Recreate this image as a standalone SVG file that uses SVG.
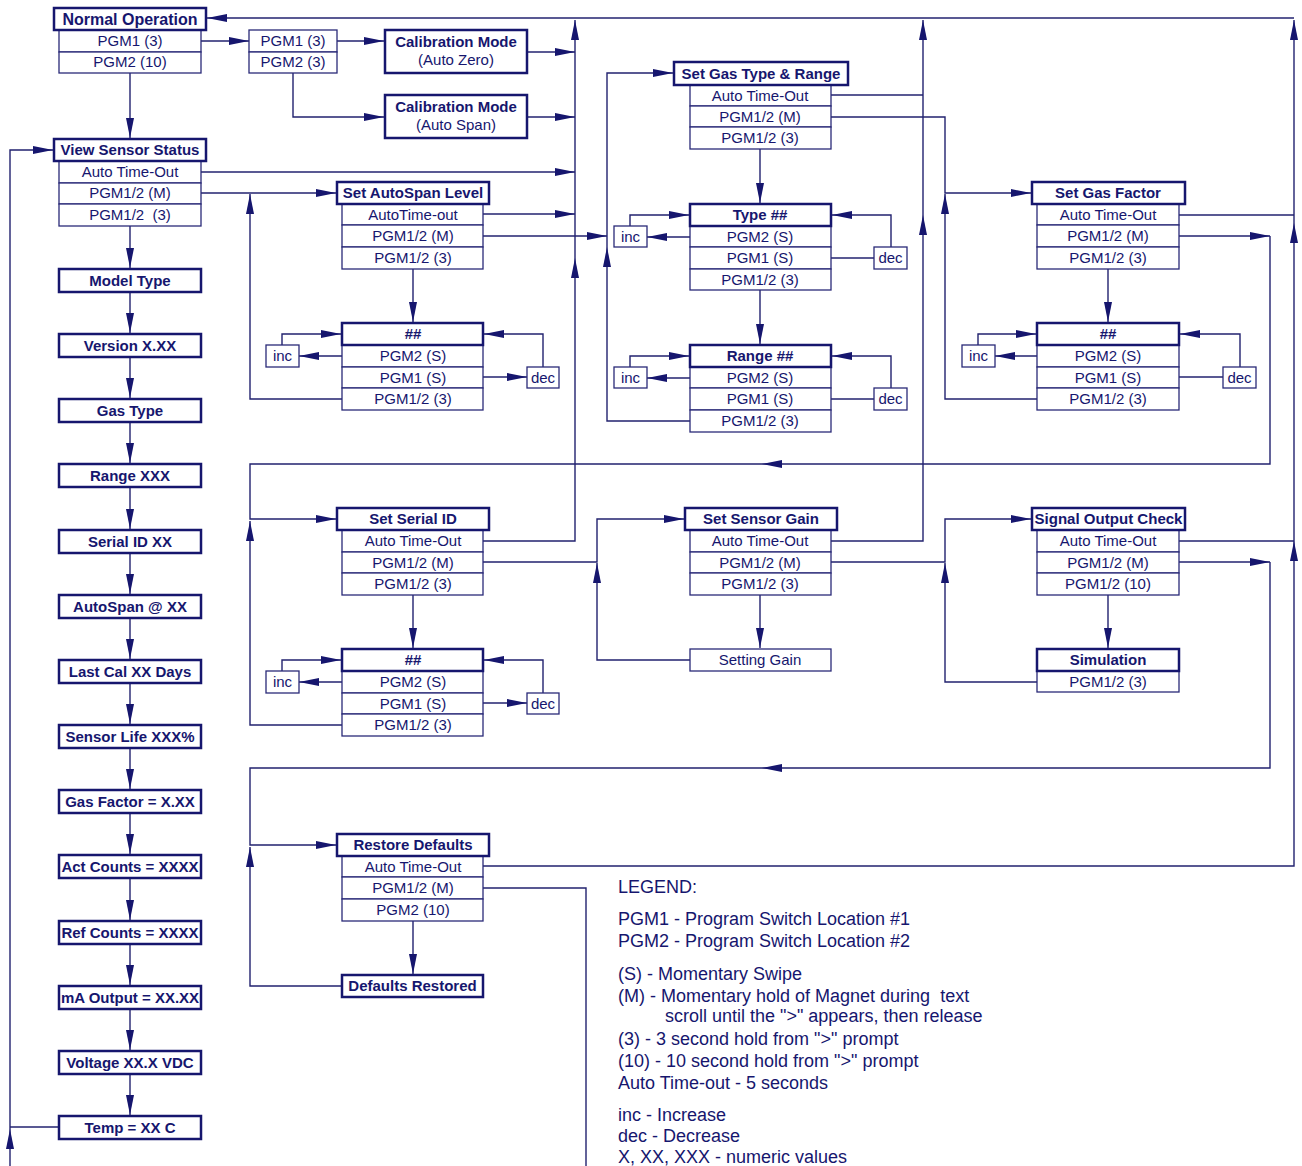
<svg xmlns="http://www.w3.org/2000/svg" width="1302" height="1166" viewBox="0 0 1302 1166">
<style>
.hdr{fill:#fff;stroke:#16166e;stroke-width:2.5}
.row{fill:#fff;stroke:#2a2a78;stroke-width:1.3}
.t{font-family:"Liberation Sans",Arial,sans-serif;font-size:15px;fill:#16166e;text-anchor:middle}
.b{font-weight:bold}
.lg{font-family:"Liberation Sans",Arial,sans-serif;font-size:18px;fill:#16166e}
.ln{fill:none;stroke:#22226f;stroke-width:1.4}
.ar{marker-end:url(#ah)}
</style>
<defs>
<marker id="ah" viewBox="0 0 20 8" refX="20" refY="4" markerWidth="20" markerHeight="8" markerUnits="userSpaceOnUse" orient="auto">
<path d="M0,0 L20,4 L0,8 z" fill="#16166e"/>
</marker>
</defs>
<rect width="1302" height="1166" fill="#fff"/>

<g id="connectors">
<!-- top return line -->
<path class="ln ar" d="M1294,18 H207"/>
<path class="ln ar" d="M130,73 V138"/>
<path class="ln ar" d="M201,41 H249"/>
<path class="ln ar" d="M337,41 H384"/>
<path class="ln ar" d="M293,73 V117 H384"/>
<path class="ln ar" d="M528,52 H575"/>
<path class="ln ar" d="M528,117 H575"/>
<path class="ln ar" d="M201,172 H575"/>
<path class="ln ar" d="M201,193 H336"/>
<path class="ln ar" d="M483,214 H575"/>
<path class="ln ar" d="M483,236 H607"/>
<path class="ln ar" d="M413,269 V322"/>
<path class="ln ar" d="M282,345 V334 H341"/>
<path class="ln ar" d="M342,356 H299"/>
<path class="ln ar" d="M483,377 H527"/>
<path class="ln ar" d="M543,367 V334 H484"/>
<path class="ln ar" d="M342,399 H250 V194"/>
<!-- 575 trunk -->
<path class="ln ar" d="M483,541 H575 V258"/>
<path class="ln ar" d="M575,258 V20"/>
<!-- 607 trunk -->
<path class="ln ar" d="M690,421 H607 V247"/>
<path class="ln ar" d="M607,247 V73 H673"/>
<!-- gas type & range -->
<path class="ln" d="M831,95 H923"/>
<path class="ln ar" d="M831,541 H923 V215"/>
<path class="ln ar" d="M923,215 V20"/>
<path class="ln ar" d="M831,117 H945 V193 H1031"/>
<path class="ln ar" d="M1037,399 H945 V194"/>
<path class="ln ar" d="M760,149 V203"/>
<path class="ln ar" d="M630,226 V215 H689"/>
<path class="ln ar" d="M690,237 H647"/>
<path class="ln" d="M831,258 H874"/>
<path class="ln ar" d="M891,247 V215 H832"/>
<path class="ln ar" d="M760,290 V344"/>
<path class="ln ar" d="M630,367 V356 H689"/>
<path class="ln ar" d="M690,378 H647"/>
<path class="ln" d="M831,399 H874"/>
<path class="ln ar" d="M891,388 V356 H832"/>
<!-- gas factor -->
<path class="ln" d="M1179,215 H1294"/>
<path class="ln ar" d="M1179,236 H1270"/>
<path class="ln ar" d="M1270,236 V464 H762"/>
<path class="ln ar" d="M762,464 H250 V519 H336"/>
<path class="ln ar" d="M1108,269 V322"/>
<path class="ln ar" d="M978,345 V334 H1036"/>
<path class="ln ar" d="M1037,356 H995"/>
<path class="ln" d="M1179,377 H1223"/>
<path class="ln ar" d="M1240,367 V334 H1180"/>
<!-- 1294 trunk -->
<path class="ln ar" d="M483,866 H1294 V541"/>
<path class="ln ar" d="M1294,541 V223"/>
<path class="ln ar" d="M1294,223 V20"/>
<path class="ln" d="M1179,541 H1294"/>
<!-- serial id -->
<path class="ln ar" d="M342,725 H250 V521"/>
<path class="ln ar" d="M483,562 H597 V519 H684"/>
<path class="ln ar" d="M690,660 H597 V563"/>
<path class="ln ar" d="M413,595 V648"/>
<path class="ln ar" d="M282,671 V660 H341"/>
<path class="ln ar" d="M342,682 H299"/>
<path class="ln ar" d="M483,703 H527"/>
<path class="ln ar" d="M543,693 V660 H484"/>
<!-- sensor gain -->
<path class="ln ar" d="M831,562 H945 V519 H1031"/>
<path class="ln ar" d="M1037,682 H945 V563"/>
<path class="ln ar" d="M760,595 V648"/>
<!-- signal output -->
<path class="ln ar" d="M1108,595 V648"/>
<path class="ln ar" d="M1179,562 H1270"/>
<path class="ln ar" d="M1270,562 V768 H762"/>
<path class="ln ar" d="M762,768 H250 V845 H336"/>
<!-- restore -->
<path class="ln ar" d="M342,986 H250 V847"/>
<path class="ln ar" d="M413,921 V974"/>
<path class="ln" d="M483,888 H586 V1166"/>
<!-- left column -->
<path class="ln ar" d="M130,226 V268"/>
<path class="ln ar" d="M130,292 V333"/>
<path class="ln ar" d="M130,357 V398"/>
<path class="ln ar" d="M130,422 V463"/>
<path class="ln ar" d="M130,487 V529"/>
<path class="ln ar" d="M130,553 V594"/>
<path class="ln ar" d="M130,618 V659"/>
<path class="ln ar" d="M130,683 V724"/>
<path class="ln ar" d="M130,748 V789"/>
<path class="ln ar" d="M130,813 V854"/>
<path class="ln ar" d="M130,878 V920"/>
<path class="ln ar" d="M130,944 V985"/>
<path class="ln ar" d="M130,1009 V1050"/>
<path class="ln ar" d="M130,1074 V1115"/>
<path class="ln" d="M59,1127 H10"/>
<path class="ln ar" d="M10,1166 V1129"/>
<path class="ln ar" d="M10,1129 V150 H53"/>
</g>

<g id="normal-operation">
<rect class="row" x="59" y="30" width="142" height="22"/>
<rect class="row" x="59" y="52" width="142" height="21"/>
<rect class="hdr" x="54" y="8" width="152" height="22"/>
<text class="t b" x="130" y="25" style="font-size:16px">Normal Operation</text>
<text class="t" x="130" y="46">PGM1 (3)</text>
<text class="t" x="130" y="67">PGM2 (10)</text>
</g>
<g id="pgm-select">
<rect class="row" x="249" y="30" width="88" height="22"/>
<rect class="row" x="249" y="52" width="88" height="21"/>
<text class="t" x="293" y="46">PGM1 (3)</text>
<text class="t" x="293" y="67">PGM2 (3)</text>
</g>
<g id="cal-zero">
<rect class="hdr" x="385" y="30" width="142" height="43"/>
<text class="t b" x="456" y="47">Calibration Mode</text>
<text class="t" x="456" y="65">(Auto Zero)</text>
</g>
<g id="cal-span">
<rect class="hdr" x="385" y="95" width="142" height="43"/>
<text class="t b" x="456" y="112">Calibration Mode</text>
<text class="t" x="456" y="130">(Auto Span)</text>
</g>
<g id="view-sensor-status">
<rect class="row" x="59" y="161" width="142" height="22"/>
<rect class="row" x="59" y="183" width="142" height="21"/>
<rect class="row" x="59" y="204" width="142" height="22"/>
<rect class="hdr" x="54" y="139" width="152" height="22"/>
<text class="t b" x="130" y="155">View Sensor Status</text>
<text class="t" x="130" y="177">Auto Time-Out</text>
<text class="t" x="130" y="198">PGM1/2 (M)</text>
<text class="t" x="130" y="220" xml:space="preserve">PGM1/2  (3)</text>
</g>

<g id="model-type"><rect class="hdr" x="59" y="269" width="142" height="23"/><text class="t b" x="130" y="285.5">Model Type</text></g>
<g id="version"><rect class="hdr" x="59" y="334" width="142" height="23"/><text class="t b" x="130" y="350.5">Version X.XX</text></g>
<g id="gas-type"><rect class="hdr" x="59" y="399" width="142" height="23"/><text class="t b" x="130" y="415.5">Gas Type</text></g>
<g id="range"><rect class="hdr" x="59" y="464" width="142" height="23"/><text class="t b" x="130" y="480.5">Range XXX</text></g>
<g id="serial-id"><rect class="hdr" x="59" y="530" width="142" height="23"/><text class="t b" x="130" y="546.5">Serial ID XX</text></g>
<g id="autospan-at"><rect class="hdr" x="59" y="595" width="142" height="23"/><text class="t b" x="130" y="611.5">AutoSpan @ XX</text></g>
<g id="last-cal"><rect class="hdr" x="59" y="660" width="142" height="23"/><text class="t b" x="130" y="676.5">Last Cal XX Days</text></g>
<g id="sensor-life"><rect class="hdr" x="59" y="725" width="142" height="23"/><text class="t b" x="130" y="741.5">Sensor Life XXX%</text></g>
<g id="gas-factor-val"><rect class="hdr" x="59" y="790" width="142" height="23"/><text class="t b" x="130" y="806.5">Gas Factor = X.XX</text></g>
<g id="act-counts"><rect class="hdr" x="59" y="855" width="142" height="23"/><text class="t b" x="130" y="871.5">Act Counts = XXXX</text></g>
<g id="ref-counts"><rect class="hdr" x="59" y="921" width="142" height="23"/><text class="t b" x="130" y="937.5">Ref Counts = XXXX</text></g>
<g id="ma-output"><rect class="hdr" x="59" y="986" width="142" height="23"/><text class="t b" x="130" y="1002.5">mA Output = XX.XX</text></g>
<g id="voltage"><rect class="hdr" x="59" y="1051" width="142" height="23"/><text class="t b" x="130" y="1067.5">Voltage XX.X VDC</text></g>
<g id="temp"><rect class="hdr" x="59" y="1116" width="142" height="23"/><text class="t b" x="130" y="1132.5">Temp = XX C</text></g>

<g id="set-autospan">
<rect class="row" x="342" y="204" width="141" height="21"/>
<rect class="row" x="342" y="225" width="141" height="22"/>
<rect class="row" x="342" y="247" width="141" height="22"/>
<rect class="hdr" x="337" y="182" width="152" height="22"/>
<text class="t b" x="413" y="198">Set AutoSpan Level</text>
<text class="t" x="413" y="219.5">AutoTime-out</text>
<text class="t" x="413" y="241">PGM1/2 (M)</text>
<text class="t" x="413" y="263">PGM1/2 (3)</text>
</g>
<g id="autospan-value">
<rect class="row" x="342" y="345" width="141" height="22"/>
<rect class="row" x="342" y="367" width="141" height="21"/>
<rect class="row" x="342" y="388" width="141" height="22"/>
<rect class="hdr" x="342" y="323" width="141" height="22"/>
<text class="t b" x="413" y="339">##</text>
<text class="t" x="413" y="361">PGM2 (S)</text>
<text class="t" x="413" y="382.5">PGM1 (S)</text>
<text class="t" x="413" y="404">PGM1/2 (3)</text>
</g>
<g id="autospan-inc"><rect class="row" x="266" y="345" width="33" height="22"/><text class="t" x="282.5" y="361">inc</text></g>
<g id="autospan-dec"><rect class="row" x="527" y="367" width="32" height="21"/><text class="t" x="543" y="382.5">dec</text></g>

<g id="set-gas-type-range">
<rect class="row" x="690" y="85" width="141" height="21"/>
<rect class="row" x="690" y="106" width="141" height="21"/>
<rect class="row" x="690" y="127" width="141" height="22"/>
<rect class="hdr" x="674" y="62" width="174" height="23"/>
<text class="t b" x="761" y="78.5">Set Gas Type &amp; Range</text>
<text class="t" x="760" y="100.5">Auto Time-Out</text>
<text class="t" x="760" y="121.5">PGM1/2 (M)</text>
<text class="t" x="760" y="143">PGM1/2 (3)</text>
</g>
<g id="type-value">
<rect class="row" x="690" y="226" width="141" height="21"/>
<rect class="row" x="690" y="247" width="141" height="22"/>
<rect class="row" x="690" y="269" width="141" height="21"/>
<rect class="hdr" x="690" y="204" width="141" height="22"/>
<text class="t b" x="760" y="220">Type ##</text>
<text class="t" x="760" y="241.5">PGM2 (S)</text>
<text class="t" x="760" y="263">PGM1 (S)</text>
<text class="t" x="760" y="284.5">PGM1/2 (3)</text>
</g>
<g id="type-inc"><rect class="row" x="614" y="226" width="33" height="21"/><text class="t" x="630.5" y="241.5">inc</text></g>
<g id="type-dec"><rect class="row" x="874" y="247" width="33" height="22"/><text class="t" x="890.5" y="263">dec</text></g>
<g id="range-value">
<rect class="row" x="690" y="367" width="141" height="21"/>
<rect class="row" x="690" y="388" width="141" height="22"/>
<rect class="row" x="690" y="410" width="141" height="22"/>
<rect class="hdr" x="690" y="345" width="141" height="22"/>
<text class="t b" x="760" y="361">Range ##</text>
<text class="t" x="760" y="382.5">PGM2 (S)</text>
<text class="t" x="760" y="404">PGM1 (S)</text>
<text class="t" x="760" y="426">PGM1/2 (3)</text>
</g>
<g id="range-inc"><rect class="row" x="614" y="367" width="33" height="21"/><text class="t" x="630.5" y="382.5">inc</text></g>
<g id="range-dec"><rect class="row" x="874" y="388" width="33" height="22"/><text class="t" x="890.5" y="404">dec</text></g>

<g id="set-gas-factor">
<rect class="row" x="1037" y="204" width="142" height="21"/>
<rect class="row" x="1037" y="225" width="142" height="22"/>
<rect class="row" x="1037" y="247" width="142" height="22"/>
<rect class="hdr" x="1032" y="182" width="153" height="22"/>
<text class="t b" x="1108" y="198">Set Gas Factor</text>
<text class="t" x="1108" y="219.5">Auto Time-Out</text>
<text class="t" x="1108" y="241">PGM1/2 (M)</text>
<text class="t" x="1108" y="263">PGM1/2 (3)</text>
</g>
<g id="gas-factor-value">
<rect class="row" x="1037" y="345" width="142" height="22"/>
<rect class="row" x="1037" y="367" width="142" height="21"/>
<rect class="row" x="1037" y="388" width="142" height="22"/>
<rect class="hdr" x="1037" y="323" width="142" height="22"/>
<text class="t b" x="1108" y="339">##</text>
<text class="t" x="1108" y="361">PGM2 (S)</text>
<text class="t" x="1108" y="382.5">PGM1 (S)</text>
<text class="t" x="1108" y="404">PGM1/2 (3)</text>
</g>
<g id="gas-factor-inc"><rect class="row" x="962" y="345" width="33" height="22"/><text class="t" x="978.5" y="361">inc</text></g>
<g id="gas-factor-dec"><rect class="row" x="1223" y="367" width="33" height="21"/><text class="t" x="1239.5" y="382.5">dec</text></g>

<g id="set-serial-id">
<rect class="row" x="342" y="530" width="141" height="22"/>
<rect class="row" x="342" y="552" width="141" height="21"/>
<rect class="row" x="342" y="573" width="141" height="22"/>
<rect class="hdr" x="337" y="508" width="152" height="22"/>
<text class="t b" x="413" y="524">Set Serial ID</text>
<text class="t" x="413" y="546">Auto Time-Out</text>
<text class="t" x="413" y="567.5">PGM1/2 (M)</text>
<text class="t" x="413" y="589">PGM1/2 (3)</text>
</g>
<g id="serial-value">
<rect class="row" x="342" y="671" width="141" height="22"/>
<rect class="row" x="342" y="693" width="141" height="21"/>
<rect class="row" x="342" y="714" width="141" height="22"/>
<rect class="hdr" x="342" y="649" width="141" height="22"/>
<text class="t b" x="413" y="665">##</text>
<text class="t" x="413" y="687">PGM2 (S)</text>
<text class="t" x="413" y="708.5">PGM1 (S)</text>
<text class="t" x="413" y="730">PGM1/2 (3)</text>
</g>
<g id="serial-inc"><rect class="row" x="266" y="671" width="33" height="22"/><text class="t" x="282.5" y="687">inc</text></g>
<g id="serial-dec"><rect class="row" x="527" y="693" width="32" height="21"/><text class="t" x="543" y="708.5">dec</text></g>

<g id="set-sensor-gain">
<rect class="row" x="690" y="530" width="141" height="22"/>
<rect class="row" x="690" y="552" width="141" height="21"/>
<rect class="row" x="690" y="573" width="141" height="22"/>
<rect class="hdr" x="685" y="508" width="152" height="22"/>
<text class="t b" x="761" y="524">Set Sensor Gain</text>
<text class="t" x="760" y="546">Auto Time-Out</text>
<text class="t" x="760" y="567.5">PGM1/2 (M)</text>
<text class="t" x="760" y="589">PGM1/2 (3)</text>
</g>
<g id="setting-gain"><rect class="row" x="690" y="649" width="141" height="22"/><text class="t" x="760" y="665">Setting Gain</text></g>

<g id="signal-output-check">
<rect class="row" x="1037" y="530" width="142" height="22"/>
<rect class="row" x="1037" y="552" width="142" height="21"/>
<rect class="row" x="1037" y="573" width="142" height="22"/>
<rect class="hdr" x="1032" y="508" width="153" height="22"/>
<text class="t b" x="1108.5" y="524" textLength="148" lengthAdjust="spacingAndGlyphs">Signal Output Check</text>
<text class="t" x="1108" y="546">Auto Time-Out</text>
<text class="t" x="1108" y="567.5">PGM1/2 (M)</text>
<text class="t" x="1108" y="589">PGM1/2 (10)</text>
</g>
<g id="simulation">
<rect class="row" x="1037" y="671" width="142" height="21"/>
<rect class="hdr" x="1037" y="649" width="142" height="22"/>
<text class="t b" x="1108" y="665">Simulation</text>
<text class="t" x="1108" y="686.5">PGM1/2 (3)</text>
</g>

<g id="restore-defaults">
<rect class="row" x="342" y="856" width="141" height="21"/>
<rect class="row" x="342" y="877" width="141" height="22"/>
<rect class="row" x="342" y="899" width="141" height="22"/>
<rect class="hdr" x="337" y="834" width="152" height="22"/>
<text class="t b" x="413" y="850">Restore Defaults</text>
<text class="t" x="413" y="871.5">Auto Time-Out</text>
<text class="t" x="413" y="893">PGM1/2 (M)</text>
<text class="t" x="413" y="915">PGM2 (10)</text>
</g>
<g id="defaults-restored"><rect class="hdr" x="342" y="975" width="141" height="22"/><text class="t b" x="412.5" y="991">Defaults Restored</text></g>

<g id="legend">
<text class="lg" x="618" y="893">LEGEND:</text>
<text class="lg" x="618" y="924.5">PGM1 - Program Switch Location #1</text>
<text class="lg" x="618" y="946.5">PGM2 - Program Switch Location #2</text>
<text class="lg" x="618" y="979.5">(S) - Momentary Swipe</text>
<text class="lg" x="618" y="1001.5" xml:space="preserve">(M) - Momentary hold of Magnet during  text</text>
<text class="lg" x="665" y="1022">scroll until the "&gt;" appears, then release</text>
<text class="lg" x="618" y="1044.5">(3) - 3 second hold from "&gt;" prompt</text>
<text class="lg" x="618" y="1066.5">(10) - 10 second hold from "&gt;" prompt</text>
<text class="lg" x="618" y="1088.5">Auto Time-out - 5 seconds</text>
<text class="lg" x="618" y="1120.5">inc - Increase</text>
<text class="lg" x="618" y="1141.5">dec - Decrease</text>
<text class="lg" x="618" y="1162.5">X, XX, XXX - numeric values</text>
</g>
</svg>
